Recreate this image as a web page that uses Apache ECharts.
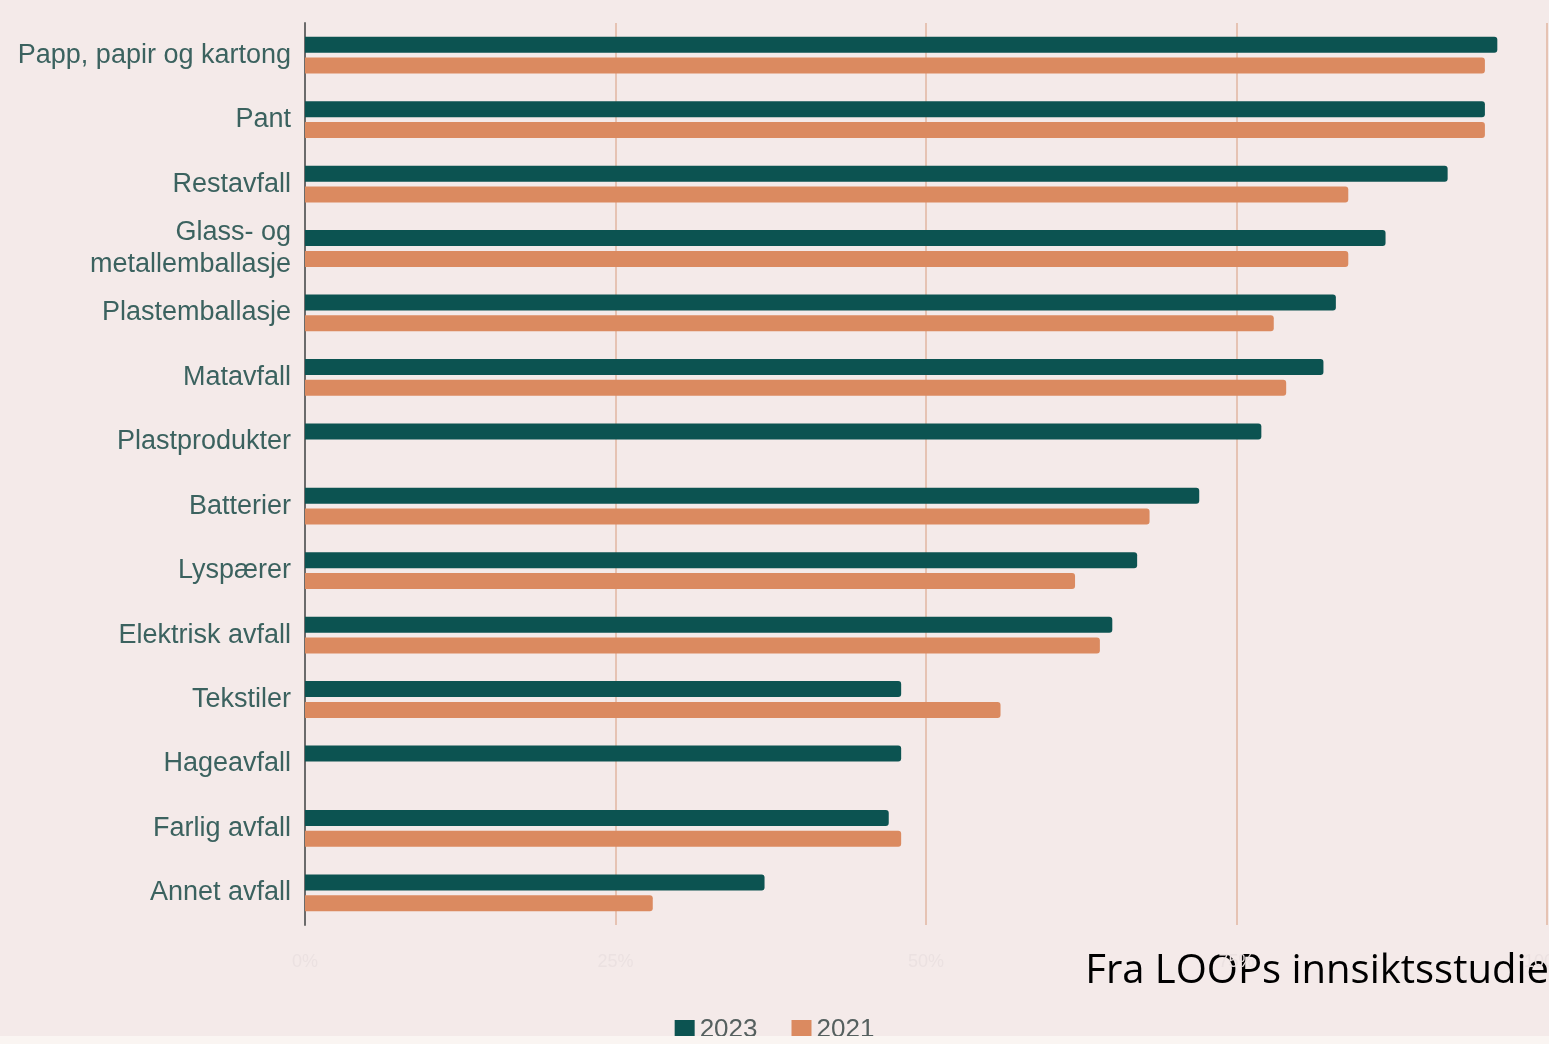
<!DOCTYPE html>
<html>
	<head>
		<meta charset="utf-8" />
		<title>Kildesortering</title>
		<style type="text/css">
			body,
			html,
			#chart {
				width: 100%;
				height: 100%;
				overflow: hidden;
				margin: 0;
				background: #f4eae9;
			}
		</style>
	</head>
	<body>
		<div id="chart"></div>
		<script src="https://cdn.jsdelivr.net/npm/echarts@6/dist/echarts.min.js"></script>
		<script>
			// kategorier (topp til bunn)
			var categories = [
				'Papp, papir og kartong',
				'Pant',
				'Restavfall',
				'Glass- og\nmetallemballasje',
				'Plastemballasje',
				'Matavfall',
				'Plastprodukter',
				'Batterier',
				'Lyspærer',
				'Elektrisk avfall',
				'Tekstiler',
				'Hageavfall',
				'Farlig avfall',
				'Annet avfall'
			];
			// andel i prosent
			var data2023 = [96, 95, 92, 87, 83, 82, 77, 72, 67, 65, 48, 48, 47, 37];
			var data2021 = [95, 95, 84, 84, 78, 79, null, 68, 62, 64, 56, null, 48, 28];
			var xTicks = ['0%', '25%', '50%', '75%', '100%'];

			var dom = document.getElementById('chart');
			var myChart = echarts.init(dom);

			var option = {
				backgroundColor: '#f4eae9',
				animation: false,
				grid: {
					left: 305,
					right: 2,
					top: 23,
					bottom: 119,
					outerBoundsMode: 'none'
				},
				legend: {
					bottom: -4,
					left: 'center',
					itemWidth: 20,
					itemHeight: 20,
					itemGap: 34,
					icon: 'rect',
					textStyle: {
						fontFamily: 'Liberation Sans',
						fontSize: 26,
						color: '#55605f'
					},
					data: ['2023', '2021']
				},
				xAxis: {
					type: 'value',
					min: 0,
					max: 100,
					interval: 25,
					axisLine: { show: false },
					axisTick: { show: false },
					splitLine: {
						lineStyle: { color: '#e6c3b3', width: 2 }
					},
					axisLabel: {
						margin: 28,
						fontFamily: 'Liberation Sans',
						fontSize: 18,
						color: '#ebe1e1',
						formatter: function (v) {
							return xTicks[v / 25];
						}
					}
				},
				yAxis: {
					type: 'category',
					inverse: true,
					data: categories,
					axisLine: {
						lineStyle: { color: '#6b6b6b', width: 2 }
					},
					axisTick: { show: false },
					axisLabel: {
						margin: 14,
						fontFamily: 'Liberation Sans',
						fontSize: 27,
						lineHeight: 32,
						color: '#3b625f'
					}
				},
				series: [
					{
						name: '2023',
						type: 'bar',
						data: data2023,
						barWidth: 16,
						barGap: '30%',
						itemStyle: { color: '#0c5351', borderRadius: [0, 3, 3, 0] }
					},
					{
						name: '2021',
						type: 'bar',
						data: data2021,
						barWidth: 16,
						itemStyle: { color: '#db8a60', borderRadius: [0, 3, 3, 0] }
					}
				],
				graphic: [
					{
						type: 'text',
						right: 0,
						top: 952,
						style: {
							text: 'Fra LOOPs innsiktsstudie',
							font: '40px "Open Sans"',
							fill: '#000000'
						}
					},
					{
						type: 'rect',
						left: 0,
						bottom: 0,
						shape: { width: 1549, height: 8 },
						style: { fill: '#faf5f2' },
						z: 100
					}
				]
			};
			myChart.setOption(option);
		</script>
	</body>
</html>
